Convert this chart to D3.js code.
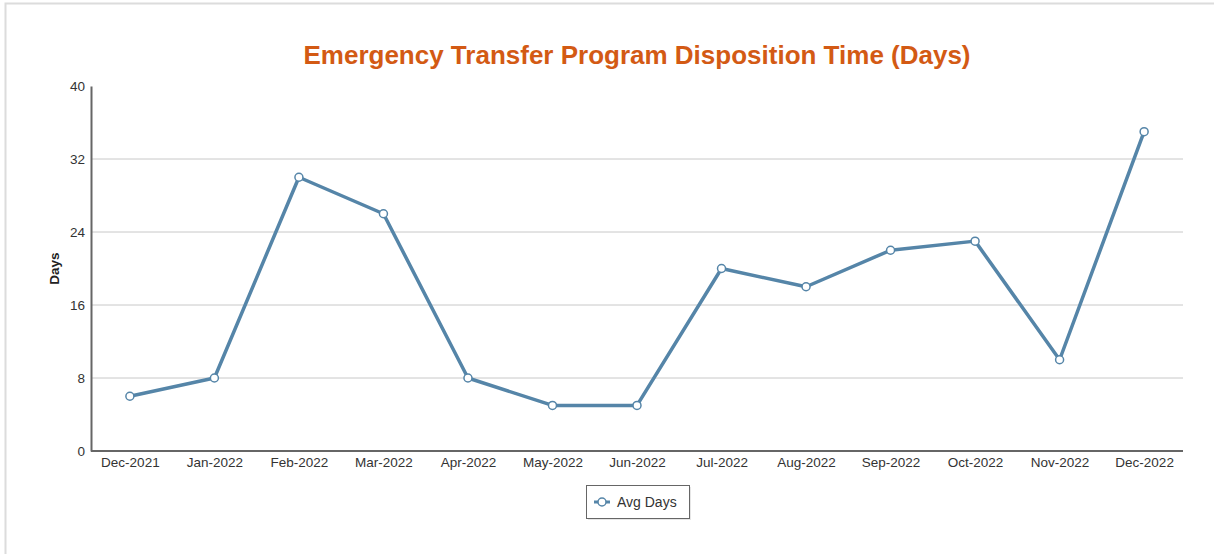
<!DOCTYPE html>
<html>
<head>
<meta charset="utf-8">
<script src="https://cdn.jsdelivr.net/npm/d3@7"></script>
<style>
  body { margin: 0; background: #fff; }
</style>
</head>
<body>
<script>
const width = 1214;
const height = 554;

const months = ["Dec-2021", "Jan-2022", "Feb-2022", "Mar-2022", "Apr-2022", "May-2022", "Jun-2022",
  "Jul-2022", "Aug-2022", "Sep-2022", "Oct-2022", "Nov-2022", "Dec-2022"];
const avgDays = [6, 8, 30, 26, 8, 5, 5, 20, 18, 22, 23, 10, 35];
const yTicks = [0, 8, 16, 24, 32, 40];

const margin = { top: 86, right: 31, bottom: 103, left: 91 };
const lineColor = "#5585a8";

const svg = d3
  .select("body")
  .append("svg")
  .attr("width", width)
  .attr("height", height)
  .style("font-family", "Arial, 'Liberation Sans', sans-serif");

// outer frame
svg.append("rect")
  .attr("x", 5.5).attr("y", 3.5)
  .attr("width", width + 10).attr("height", height + 10)
  .attr("fill", "none")
  .attr("stroke", "#dcdcdc")
  .attr("stroke-width", 2);

const x = d3.scalePoint()
  .domain(months)
  .range([margin.left, width - margin.right])
  .padding(0.46);

const y = d3.scaleLinear()
  .domain([0, 40])
  .range([height - margin.bottom, margin.top]);

// grid
svg.append("g")
  .selectAll("line")
  .data(yTicks.filter((d) => d > 0 && d < 40))
  .join("line")
  .attr("x1", margin.left)
  .attr("x2", width - margin.right)
  .attr("y1", (d) => y(d))
  .attr("y2", (d) => y(d))
  .attr("stroke", "#c8c8c8")
  .attr("stroke-width", 1);

// y axis
const yAxis = svg.append("g")
  .attr("transform", `translate(${margin.left},0)`)
  .call(d3.axisLeft(y).tickValues(yTicks).tickSize(0).tickPadding(6));
yAxis.select(".domain").attr("stroke", "#666").attr("stroke-width", 2);
yAxis.selectAll("text").attr("fill", "#333").attr("font-size", 13.5);

// x axis
const xAxis = svg.append("g")
  .attr("transform", `translate(0,${height - margin.bottom})`)
  .call(d3.axisBottom(x).tickSize(0).tickPadding(6));
xAxis.select(".domain")
  .attr("d", `M${margin.left},0H${width - margin.right}`)
  .attr("stroke", "#666").attr("stroke-width", 2);
xAxis.selectAll("text").attr("fill", "#333").attr("font-size", 13.5);

// axis title
svg.append("text")
  .attr("transform", `translate(59,${y(20)}) rotate(-90)`)
  .attr("text-anchor", "middle")
  .attr("font-size", 13.5)
  .attr("font-weight", "bold")
  .attr("fill", "#222")
  .text("Days");

// chart title
svg.append("text")
  .attr("x", 637)
  .attr("y", 64)
  .attr("text-anchor", "middle")
  .attr("font-size", 26)
  .attr("font-weight", "bold")
  .attr("fill", "#d35a14")
  .text("Emergency Transfer Program Disposition Time (Days)");

// line
const line = d3.line()
  .x((d, i) => x(months[i]))
  .y((d) => y(d));

svg.append("path")
  .datum(avgDays)
  .attr("d", line)
  .attr("fill", "none")
  .attr("stroke", lineColor)
  .attr("stroke-width", 3.5)
  .attr("stroke-linejoin", "round");

svg.append("g")
  .selectAll("circle")
  .data(avgDays)
  .join("circle")
  .attr("cx", (d, i) => x(months[i]))
  .attr("cy", (d) => y(d))
  .attr("r", 4)
  .attr("fill", "#fff")
  .attr("stroke", lineColor)
  .attr("stroke-width", 1.5);

// legend
const legend = svg.append("g").attr("transform", "translate(586,485)");
legend.append("rect")
  .attr("x", 2).attr("y", 2)
  .attr("width", 103).attr("height", 33)
  .attr("fill", "#e6e6e6");
legend.append("rect")
  .attr("x", 0.5).attr("y", 0.5)
  .attr("width", 103).attr("height", 33)
  .attr("fill", "#fff")
  .attr("stroke", "#666")
  .attr("stroke-width", 1);
legend.append("line")
  .attr("x1", 8).attr("x2", 24)
  .attr("y1", 17).attr("y2", 17)
  .attr("stroke", lineColor)
  .attr("stroke-width", 3);
legend.append("circle")
  .attr("cx", 16).attr("cy", 17).attr("r", 4)
  .attr("fill", "#fff")
  .attr("stroke", lineColor)
  .attr("stroke-width", 1.5);
legend.append("text")
  .attr("x", 31).attr("y", 22)
  .attr("font-size", 14)
  .attr("fill", "#333")
  .text("Avg Days");
</script>
</body>
</html>
